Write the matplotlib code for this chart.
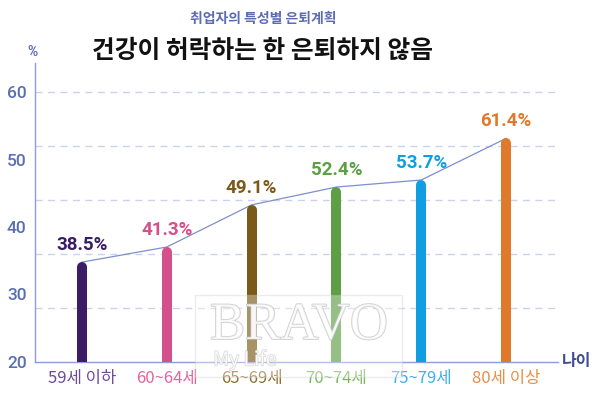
import matplotlib
matplotlib.use("Agg")
import matplotlib.pyplot as plt
import matplotlib.patheffects as pe
from matplotlib.patches import Rectangle
import numpy as np

plt.rcParams['font.family'] = ['Noto Sans CJK KR', 'DejaVu Sans']

categories = ["59세 이하", "60~64세", "65~69세", "70~74세", "75~79세", "80세 이상"]
values = [38.5, 41.3, 49.1, 52.4, 53.7, 61.4]
value_labels = ["38.5%", "41.3%", "49.1%", "52.4%", "53.7%", "61.4%"]
bar_colors = ["#3b1d66", "#d4508a", "#7a5a16", "#5c9f45", "#0f9ee2", "#df7a2c"]
cat_colors = ["#6a4c98", "#e2649d", "#8e6b2a", "#7bb55c", "#3cb0ec", "#e88e48"]
grid_levels = [30, 40, 50, 60, 70]
ytick_labels = ["20", "30", "40", "50", "60"]

W, H = 600, 401
fig = plt.figure(figsize=(W / 100, H / 100), dpi=100)
ax_l, ax_r, ax_b, ax_t = 35, 558, 362, 63
ax = fig.add_axes([ax_l / W, 1 - ax_b / H, (ax_r - ax_l) / W, (ax_b - ax_t) / H])

ymin = 20
px_per_unit = 5.4
ymax = ymin + (ax_b - ax_t) / px_per_unit
ax.set_ylim(ymin, ymax)
px_per_x = 84.8
ax.set_xlim((ax_l - 82) / px_per_x, (ax_r - 82) / px_per_x)

x = np.arange(len(categories))

# dashed gridlines
for g in grid_levels:
    ax.axhline(g, color="#cdd1f0", lw=1.0, ls=(0, (5, 4)), zorder=0)

# connecting line
ax.plot(x, values, color="#7d8fcc", lw=0.9, zorder=2)

# bars with rounded tops
bar_px = 10
r_units = (bar_px / 2) / px_per_unit
for xi, v, c in zip(x, values, bar_colors):
    ax.plot([xi, xi], [ymin - 5, v - r_units], color=c, lw=bar_px * 0.72,
             solid_capstyle="round", zorder=3)

# value labels
for xi, v, lab, c in zip(x, values, value_labels, bar_colors):
    ax.text(xi, v + 1.5, lab, ha="center", va="bottom", color=c,
            fontsize=13.5, fontweight="bold", family=["Roboto", "DejaVu Sans"], zorder=4)

# spines
for s in ["top", "right"]:
    ax.spines[s].set_visible(False)
ax.spines["left"].set_color("#8e9dd4")
ax.spines["bottom"].set_color("#8e9dd4")
ax.spines["left"].set_linewidth(1.0)
ax.spines["bottom"].set_linewidth(1.0)

# y ticks (labels as printed in the source graphic)
ax.set_yticks(np.linspace(20, 70, 5))
ax.set_yticklabels(ytick_labels, color="#5a6fb2", fontsize=12.5,
                   family=["Roboto", "DejaVu Sans"], fontweight="medium")
ax.tick_params(axis="y", length=0, pad=6)

ax.set_xticks(x)
ax.set_xticklabels(categories, fontsize=12, fontweight="light")
for t, c in zip(ax.get_xticklabels(), cat_colors):
    t.set_color(c)
ax.tick_params(axis="x", length=0, pad=6)

# watermark
wm = Rectangle((195 / W, 1 - 377 / H), 207 / W, 82 / H, transform=fig.transFigure,
               facecolor="white", alpha=0.35, edgecolor="#c8c8c8", lw=1.0, zorder=10)
fig.patches.append(wm)
fig.text(299 / W, 1 - 326 / H, "BRAVO", ha="center", va="center", fontsize=38,
         family="Liberation Serif", color="white", alpha=0.75, zorder=11,
         path_effects=[pe.withStroke(linewidth=1.2, foreground="#c0c0c0")])
fig.text(245 / W, 1 - 360 / H, "My Life", ha="center", va="center", fontsize=14,
         color="white", alpha=0.8, zorder=11,
         path_effects=[pe.withStroke(linewidth=1.0, foreground="#cfcfcf")])

# titles
fig.text(263 / W, 1 - 19 / H, "취업자의 특성별 은퇴계획", ha="center", va="center",
         fontsize=10, fontweight="bold", color="#5b6cb3")
fig.text(263 / W, 1 - 51 / H, "건강이 허락하는 한 은퇴하지 않음", ha="center", va="center",
         fontsize=17.8, fontweight="black", color="#111111")
fig.text(32 / W, 1 - 52 / H, "%", ha="center", va="center", fontsize=10,
         fontweight="bold", color="#5a6db0", family=["Roboto", "DejaVu Sans"])
fig.text(577 / W, 1 - 361 / H, "나이", ha="center", va="center", fontsize=11.5,
         fontweight="bold", color="#3e4c92")

fig.savefig("out.png", dpi=100, facecolor="white")
